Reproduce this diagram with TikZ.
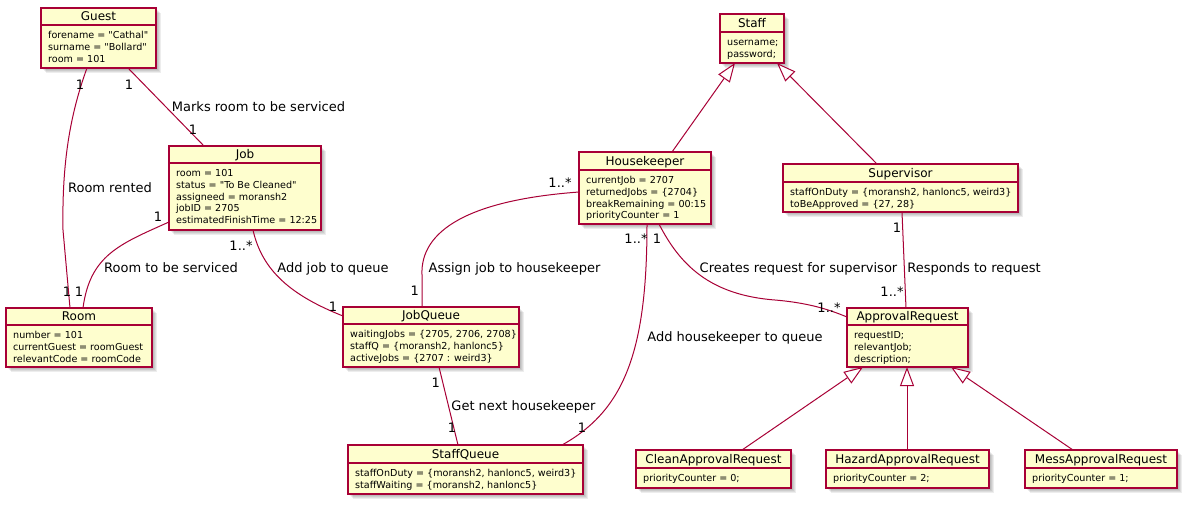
\documentclass[tikz,border=0pt]{standalone}
\usepackage{fontspec}
\setmainfont{DejaVu Sans}[Ligatures=TeXOff]
\usetikzlibrary{arrows.meta,calc}
\definecolor{umlfill}{HTML}{FEFECE}
\definecolor{umlred}{HTML}{A80036}
\tikzset{
  classbox/.style={draw=umlred, fill=umlfill, line width=1.5pt, rectangle, inner sep=0pt, outer sep=0pt},
  classline/.style={draw=umlred, line width=1.5pt},
  classtitle/.style={anchor=base, inner sep=0pt, font=\fontsize{12}{14}\selectfont},
  classattr/.style={anchor=base west, inner sep=0pt, font=\fontsize{9.6}{12}\selectfont},
  assoc/.style={draw=umlred, line width=1pt},
  inherit/.style={draw=umlred, line width=1pt, -{Triangle[open, length=19pt, width=14pt, fill=white]}},
  lbl/.style={anchor=base, inner sep=0pt, font=\fontsize{13}{15}\selectfont},
}
\newcommand{\umlclass}[8]{%
  \foreach \shd in {1,...,4} {\fill[black, opacity=0.07] ({#2+1+\shd},{#3+1+\shd}) rectangle ({#4+1+\shd},{#6+1+\shd});}
  \node[classbox, minimum width={(#4-#2)*1pt}, minimum height={(#6-#3)*1pt}] (#1) at ({(#2+#4)/2},{(#3+#6)/2}) {};
  \draw[classline] (#2,#5) -- (#4,#5);
  \node[classtitle] (#1-t) at ({(#2+#4)/2},{#5-4.5}) {#7};
  \foreach \attr [count=\idx] in {#8} {\node[classattr] (#1-a\idx) at ({#2+7},{#5+13.5+(\idx-1)*11.8}) {\attr};}
}
\begin{document}
\begin{tikzpicture}[x=1pt, y=-1pt]
\fill[white] (0,0) rectangle (1186,504);
\useasboundingbox (0,0) rectangle (1186,504);

\umlclass{guest}{41}{8}{156}{25}{68}{Guest}{{forename = "Cathal"},{surname = "Bollard"},{room = 101}}
\umlclass{job}{169}{146}{321}{163}{230}{Job}{{room = 101},{status = "To Be Cleaned"},{assigneed = moransh2},{jobID = 2705},{estimatedFinishTime = 12:25}}
\umlclass{room}{6}{308}{152}{325}{367}{Room}{{number = 101},{currentGuest = roomGuest},{relevantCode = roomCode}}
\umlclass{jobqueue}{343}{307}{519}{324}{367}{JobQueue}{{waitingJobs = \{2705, 2706, 2708\}},{staffQ = \{moransh2, hanlonc5\}},{activeJobs = \{2707 : weird3\}}}
\umlclass{staffqueue}{348}{445}{583}{463}{494}{StaffQueue}{{staffOnDuty = \{moransh2, hanlonc5, weird3\}},{staffWaiting = \{moransh2, hanlonc5\}}}
\umlclass{staff}{720}{14}{784}{32}{63}{Staff}{{username;},{password;}}
\umlclass{housekeeper}{579}{152}{711}{170}{224}{Housekeeper}{{currentJob = 2707},{returnedJobs = \{2704\}},{breakRemaining = 00:15},{priorityCounter = 1}}
\umlclass{supervisor}{783}{164}{1018}{182}{212}{Supervisor}{{staffOnDuty = \{moransh2, hanlonc5, weird3\}},{toBeApproved = \{27, 28\}}}
\umlclass{approval}{847}{308}{968}{325}{367}{ApprovalRequest}{{requestID;},{relevantJob;},{description;}}
\umlclass{clean}{636}{450}{791}{468}{488}{CleanApprovalRequest}{{priorityCounter = 0;}}
\umlclass{hazard}{826}{450}{989}{468}{488}{HazardApprovalRequest}{{priorityCounter = 2;}}
\umlclass{mess}{1025}{450}{1177}{468}{488}{MessApprovalRequest}{{priorityCounter = 1;}}

% associations
\draw[assoc] ($(guest.south west)+(46,0)$) .. controls (68,120) and (62,170) .. (63,230) -- ($(room.north west)+(64,0)$);
\draw[assoc] ($(guest.south west)+(87,0)$) -- ($(job.north west)+(35,0)$);
\draw[assoc] ($(job.south west)+(0,-8)$) .. controls (120,244) and (90,255) .. ($(room.north west)+(77,0)$);
\draw[assoc] ($(job.south west)+(84,0)$) .. controls (262,270) and (290,295) .. ($(jobqueue.north west)+(0,9)$);
\draw[assoc] ($(housekeeper.north west)+(0,40)$) .. controls (470,200) and (420,230) .. (422,275) -- ($(jobqueue.north west)+(79,0)$);
\draw[assoc] ($(jobqueue.south west)+(96,0)$) -- ($(staffqueue.north west)+(110,0)$);
\draw[assoc] ($(housekeeper.south west)+(68,0)$) .. controls (647,350) and (625,410) .. ($(staffqueue.north west)+(214,0)$);
\draw[assoc] ($(housekeeper.south west)+(80,0)$) .. controls (680,265) and (710,295) .. (775,300) .. controls (810,303) and (830,310) .. ($(approval.north west)+(0,9)$);
\draw[assoc] ($(supervisor.south west)+(119,0)$) -- ($(approval.north west)+(59,0)$);

% generalisations
\draw[inherit] ($(housekeeper.north west)+(93,0)$) -- ($(staff.south west)+(15,0)$);
\draw[inherit] ($(supervisor.north west)+(94,0)$) -- ($(staff.south west)+(57,0)$);
\draw[inherit] ($(clean.north west)+(106,0)$) -- ($(approval.south west)+(16,0)$);
\draw[inherit] ($(hazard.north west)+(81,0)$) -- ($(approval.south west)+(60,0)$);
\draw[inherit] ($(mess.north west)+(48,0)$) -- ($(approval.south west)+(104,0)$);

% labels
\node[lbl] (l1) at (80,89) {1};
\node[lbl] (l2) at (67,296) {1};
\node[lbl] (l3) at (110,192.5) {Room rented};
\node[lbl] (l4) at (129,89) {1};
\node[lbl] (l5) at (193,134) {1};
\node[lbl] (l6) at (258.5,111.7) {Marks room to be serviced};
\node[lbl] (l7) at (158,221) {1};
\node[lbl] (l8) at (79,296) {1};
\node[lbl] (l9) at (171,272.7) {Room to be serviced};
\node[lbl] (l10) at (241,250) {1..*};
\node[lbl] (l11) at (333,272.7) {Add job to queue};
\node[lbl] (l12) at (333,311.7) {1};
\node[lbl] (l13) at (560,187.3) {1..*};
\node[lbl] (l14) at (514.5,272.7) {Assign job to housekeeper};
\node[lbl] (l15) at (414.7,295.7) {1};
\node[lbl] (l16) at (435.7,387.7) {1};
\node[lbl] (l17) at (523.5,410.7) {Get next housekeeper};
\node[lbl] (l18) at (452,432.7) {1};
\node[lbl] (l19) at (636,243.3) {1..*};
\node[lbl] (l20) at (582,432.7) {1};
\node[lbl] (l21) at (735,341.5) {Add housekeeper to queue};
\node[lbl] (l22) at (657,243.3) {1};
\node[lbl] (l23) at (798.5,272.7) {Creates request for supervisor};
\node[lbl] (l24) at (829,312.3) {1..*};
\node[lbl] (l25) at (897,232.3) {1};
\node[lbl] (l26) at (974,272.7) {Responds to request};
\node[lbl] (l27) at (892,296) {1..*};
\end{tikzpicture}
\end{document}
